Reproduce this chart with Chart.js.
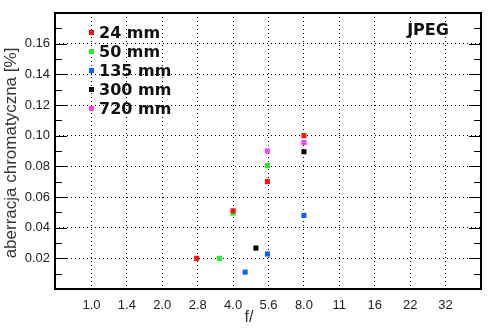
<!DOCTYPE html>
<html>
<head>
<meta charset="utf-8">
<script src="https://cdn.jsdelivr.net/npm/chart.js@4/dist/chart.umd.min.js"></script>
<style>
  html, body { margin: 0; padding: 0; background: #fff; }
  #wrap { width: 494px; height: 331px; }
</style>
</head>
<body>
<div id="wrap"><canvas id="wykres"></canvas></div>
<script>
// etykiety osi X (przysłony)
const przyslony = ['1.0', '1.4', '2.0', '2.8', '4.0', '5.6', '8.0', '11', '16', '22', '32'];
const ogniskowe = ['24 mm', '50 mm', '135 mm', '300 mm', '720 mm'];
const kolory = ['#ff1010', '#22ee22', '#1060ff', '#000000', '#ff40ff'];

// pomiary: przysłona -> aberracja [%]
const f24 = [2.8, 4.0, 5.6, 8.0];
const ab24 = [0.020, 0.051, 0.070, 0.100];
const f50 = [3.5, 4.0, 5.6];
const ab50 = [0.020, 0.0495, 0.0805];
const f135 = [4.5, 5.6, 8.0];
const ab135 = [0.011, 0.0228, 0.048];
const f300 = [5.0, 8.0];
const ab300 = [0.0267, 0.0895];
const f720 = [5.6, 8.0];
const ab720 = [0.090, 0.0955];

const seriaF = [f24, f50, f135, f300, f720];
const seriaAb = [ab24, ab50, ab135, ab300, ab720];

const datasets = ogniskowe.map((nazwa, i) => ({
    label: nazwa,
    data: seriaF[i].map((f, j) => ({ x: f, y: seriaAb[i][j] })),
    backgroundColor: kolory[i],
    borderWidth: 0,
    pointStyle: 'rect',
    pointRadius: 3.6,
    pointHoverRadius: 3.6
}));

// ramka, ząbki wewnątrz, podpisy osi, legenda
const dodatki = {
    id: 'dodatki',
    afterDraw(chart) {
        const ctx = chart.ctx, a = chart.chartArea, y = chart.scales.y;
        ctx.save();
        ctx.strokeStyle = '#000';
        ctx.lineWidth = 1;
        for (let k = 1; k < 18; k++) {
            const py = Math.round(y.getPixelForValue(k / 100)) + 0.5;
            const len = k % 2 === 0 ? 12 : 7;
            ctx.beginPath();
            ctx.moveTo(a.left, py); ctx.lineTo(a.left + len, py);
            ctx.moveTo(a.right, py); ctx.lineTo(a.right - len, py);
            ctx.stroke();
        }
        ctx.lineWidth = 2;
        ctx.strokeRect(a.left, a.top, a.right - a.left, a.bottom - a.top);

        // tytuł osi Y
        ctx.fillStyle = '#333';
        ctx.font = '17px "Liberation Sans", Arial, sans-serif';
        ctx.textAlign = 'center';
        ctx.textBaseline = 'middle';
        ctx.save();
        ctx.translate(11, 153);
        ctx.rotate(-Math.PI / 2);
        ctx.fillText('aberracja chromatyczna [%]', 0, 0);
        ctx.restore();
        // tytuł osi X
        ctx.font = '16px "Liberation Sans", Arial, sans-serif';
        ctx.fillText('f/', 249, 318);

        // JPEG
        ctx.fillStyle = '#111';
        ctx.font = 'bold 16px "DejaVu Sans", sans-serif';
        ctx.fillText('JPEG', 428, 31);

        // legenda
        ctx.textAlign = 'left';
        ctx.font = 'bold 16px "DejaVu Sans", sans-serif';
        chart.data.datasets.forEach((ds, i) => {
            const cy = 33 + i * 19;
            ctx.fillStyle = ds.backgroundColor;
            ctx.fillRect(89, cy - 3, 5, 5);
            ctx.fillStyle = '#111';
            ctx.fillText(ds.label, 99, cy + 1);
        });
        ctx.restore();
    }
};

new Chart(document.getElementById('wykres'), {
    type: 'scatter',
    data: { datasets: datasets },
    options: {
        responsive: true,
        maintainAspectRatio: false,
        animation: false,
        layout: { padding: { top: 13, right: 13, left: 0, bottom: 0 } },
        plugins: { legend: { display: false }, tooltip: { enabled: false } },
        scales: {
            x: {
                type: 'logarithmic',
                min: Math.SQRT1_2,
                max: 32 * Math.SQRT2,
                afterBuildTicks: (s) => { s.ticks = przyslony.map((l, i) => ({ value: Math.pow(2, i / 2) })); },
                afterFit: (s) => { s.height = 42; },
                ticks: {
                    autoSkip: false, maxRotation: 0, padding: 9, color: '#222',
                    font: { family: '"Liberation Sans", Arial, sans-serif', size: 13 },
                    callback: function (v, i) { return przyslony[i]; }
                },
                grid: { color: '#000', lineWidth: 1, drawTicks: false },
                border: { display: false, dash: [1, 3] }
            },
            y: {
                min: 0,
                max: 0.18,
                afterFit: (s) => { s.width = 55; },
                ticks: {
                    stepSize: 0.02, padding: 5, color: '#222',
                    font: { family: '"Liberation Sans", Arial, sans-serif', size: 13 },
                    callback: (v) => (v < 0.001 || v > 0.175) ? '' : v.toFixed(2)
                },
                grid: { color: '#000', lineWidth: 1, drawTicks: false },
                border: { display: false, dash: [1, 3] }
            }
        }
    },
    plugins: [dodatki]
});
</script>
</body>
</html>
